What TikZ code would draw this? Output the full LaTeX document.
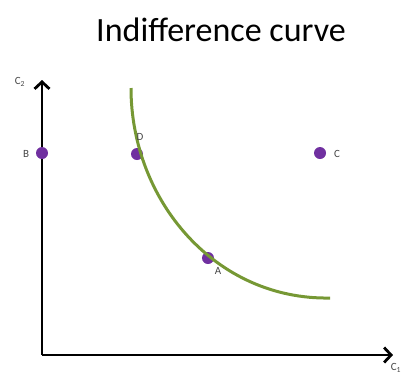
\documentclass[tikz,border=0pt]{standalone}
\usepackage{fontspec}
\setmainfont{Carlito}
\usetikzlibrary{arrows.meta}
\definecolor{curvegreen}{RGB}{118,152,52}
\definecolor{dotpurple}{RGB}{112,48,160}
\definecolor{labelgray}{RGB}{70,70,70}
\tikzset{
  axis/.style={line width=2.8pt, -{Straight Barb[length=7pt,width=15pt,line width=2.8pt]}},
  dot/.style={circle, fill=dotpurple, inner sep=0pt, minimum size=12pt},
  lbl/.style={text=labelgray, font=\fontsize{11}{12}\selectfont, inner sep=0pt},
  icurve/.style={curvegreen, line width=3pt}
}
\begin{document}
\begin{tikzpicture}[x=1pt,y=-1pt]
\useasboundingbox (0,0) rectangle (406,376);
\node (title) at (221,30) {\fontsize{34}{38}\selectfont Indifference curve};
\coordinate (O) at (42,355);
\coordinate (ytip) at (42,80);
\coordinate (xtip) at (393,355);
\draw[axis] (O) -- (ytip);
\draw[axis] (O) -- (xtip);
\node[lbl] (c2) at (20,82) {C\textsubscript{2}};
\node[lbl] (c1) at (396,368) {C\textsubscript{1}};
\node[dot] (B) at (42,153) {};
\node[dot] (D) at (137,154) {};
\node[dot] (C) at (320,153) {};
\node[dot] (A) at (208,258) {};
\coordinate (cs) at (131,88);
\coordinate (ce) at (330,298);
\draw[icurve] (cs) .. controls (131,200) and (215,300) .. (ce);
\node[lbl] (lB) at (26,154) {B};
\node[lbl] (lD) at (140,137) {D};
\node[lbl] (lC) at (337,154) {C};
\node[lbl] (lA) at (218,271) {A};
\end{tikzpicture}
\end{document}
